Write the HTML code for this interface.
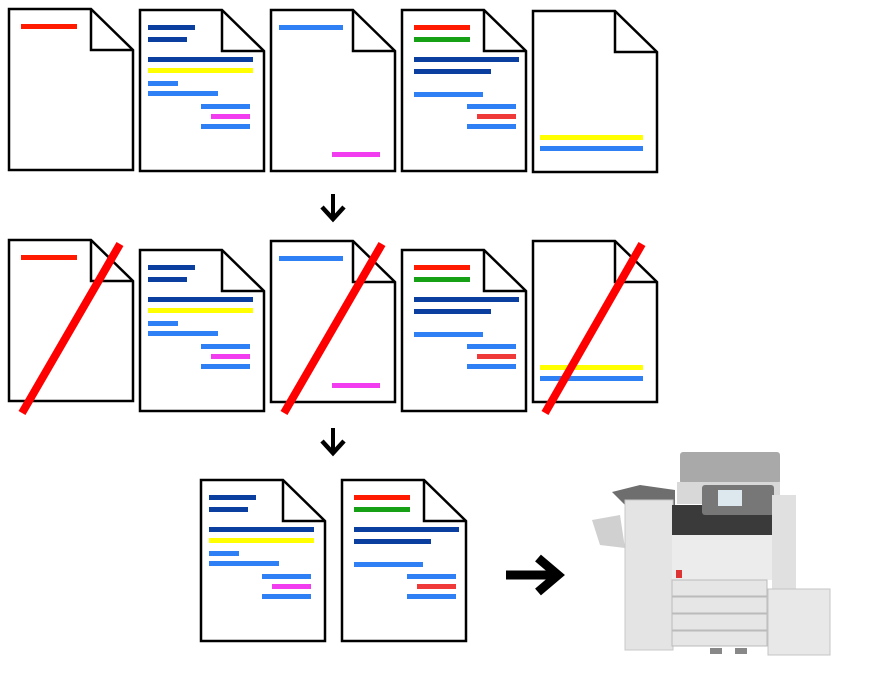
<!DOCTYPE html>
<html><head><style>body{margin:0;background:#fff}svg{display:block}</style></head><body>
<svg width="878" height="693" viewBox="0 0 878 693" xmlns="http://www.w3.org/2000/svg">
<defs>
<g id="pg"><path d="M0,0 H82 L124,41 V161 H0 Z" fill="#fff" stroke="#000" stroke-width="2.5"/><path d="M82,0 V41 H124" fill="none" stroke="#000" stroke-width="2.5"/></g>
<g id="c1"><use href="#pg"/><rect x="12" y="15" width="56" height="5" fill="#ff1a00"/></g>
<g id="c2"><use href="#pg"/>
<rect x="8" y="15" width="47" height="5" fill="#0a3fa0"/><rect x="8" y="27" width="39" height="5" fill="#0a3fa0"/>
<rect x="8" y="47" width="105" height="5" fill="#0a3fa0"/><rect x="8" y="58" width="105" height="5" fill="#ffff00"/>
<rect x="8" y="71" width="30" height="5" fill="#2f7ff5"/><rect x="8" y="81" width="70" height="5" fill="#2f7ff5"/>
<rect x="61" y="94" width="49" height="5" fill="#2f7ff5"/><rect x="71" y="104" width="39" height="5" fill="#f23cf0"/><rect x="61" y="114" width="49" height="5" fill="#2f7ff5"/></g>
<g id="c3"><use href="#pg"/><rect x="8" y="15" width="64" height="5" fill="#2f7ff5"/><rect x="61" y="142" width="48" height="5" fill="#f23cf0"/></g>
<g id="c4"><use href="#pg"/>
<rect x="12" y="15" width="56" height="5" fill="#ff1a00"/><rect x="12" y="27" width="56" height="5" fill="#16a016"/>
<rect x="12" y="47" width="105" height="5" fill="#0a3fa0"/><rect x="12" y="59" width="77" height="5" fill="#0a3fa0"/>
<rect x="12" y="82" width="69" height="5" fill="#2f7ff5"/><rect x="65" y="94" width="49" height="5" fill="#2f7ff5"/>
<rect x="75" y="104" width="39" height="5" fill="#f03a3a"/><rect x="65" y="114" width="49" height="5" fill="#2f7ff5"/></g>
<g id="c5"><use href="#pg"/><rect x="7" y="124" width="103" height="5" fill="#ffff00"/><rect x="7" y="135" width="103" height="5" fill="#2f7ff5"/></g>
<g id="da"><path d="M0,0 V24" stroke="#000" stroke-width="4"/><path d="M-11,13 L0,25 L11,13" fill="none" stroke="#000" stroke-width="4.5"/></g>
</defs>
<use href="#c1" x="9" y="9"/><use href="#c2" x="140" y="10"/><use href="#c3" x="271" y="10"/><use href="#c4" x="402" y="10"/><use href="#c5" x="533" y="11"/>
<use href="#da" x="333" y="194"/>
<use href="#c1" x="9" y="240"/><use href="#c2" x="140" y="250"/><use href="#c3" x="271" y="241"/><use href="#c4" x="402" y="250"/><use href="#c5" x="533" y="241"/>
<g stroke="#ff0000" stroke-width="8"><line x1="120" y1="244" x2="22" y2="413"/><line x1="382" y1="244" x2="284" y2="413"/><line x1="642" y1="244" x2="545" y2="413"/></g>
<use href="#da" x="333" y="428"/>
<use href="#c2" x="201" y="480"/><use href="#c4" x="342" y="480"/>
<path d="M506,575 H552" stroke="#000" stroke-width="9"/><path d="M538,558 L558,575 L538,592" fill="none" stroke="#000" stroke-width="9"/>
<!-- printer -->
<g>
<rect x="680" y="452" width="100" height="32" fill="#a9a9a9" rx="3"/>
<rect x="677" y="482" width="103" height="22" fill="#d8d8d8"/>
<path d="M612,492 L640,485 L675,490 L675,515 L640,520 Z" fill="#6e6e6e"/>
<path d="M592,520 L620,515 L625,548 L600,545 Z" fill="#d0d0d0"/>
<rect x="625" y="500" width="48" height="150" fill="#e4e4e4" stroke="#c8c8c8"/>
<rect x="672" y="505" width="100" height="30" fill="#3a3a3a"/>
<rect x="702" y="485" width="72" height="30" fill="#777" rx="3"/>
<rect x="718" y="490" width="24" height="16" fill="#dde8ee"/>
<rect x="772" y="495" width="24" height="110" fill="#e0e0e0"/>
<rect x="672" y="535" width="100" height="45" fill="#ececec"/>
<rect x="676" y="570" width="6" height="8" fill="#d33"/>
<rect x="672" y="580" width="95" height="16" fill="#e6e6e6" stroke="#bbb"/>
<rect x="672" y="597" width="95" height="16" fill="#e6e6e6" stroke="#bbb"/>
<rect x="672" y="614" width="95" height="16" fill="#e6e6e6" stroke="#bbb"/>
<rect x="672" y="631" width="95" height="15" fill="#e6e6e6" stroke="#bbb"/>
<rect x="768" y="589" width="62" height="66" fill="#e8e8e8" stroke="#c4c4c4"/>
<rect x="710" y="648" width="12" height="6" fill="#888"/><rect x="735" y="648" width="12" height="6" fill="#888"/>
</g>
</svg>
</body></html>
